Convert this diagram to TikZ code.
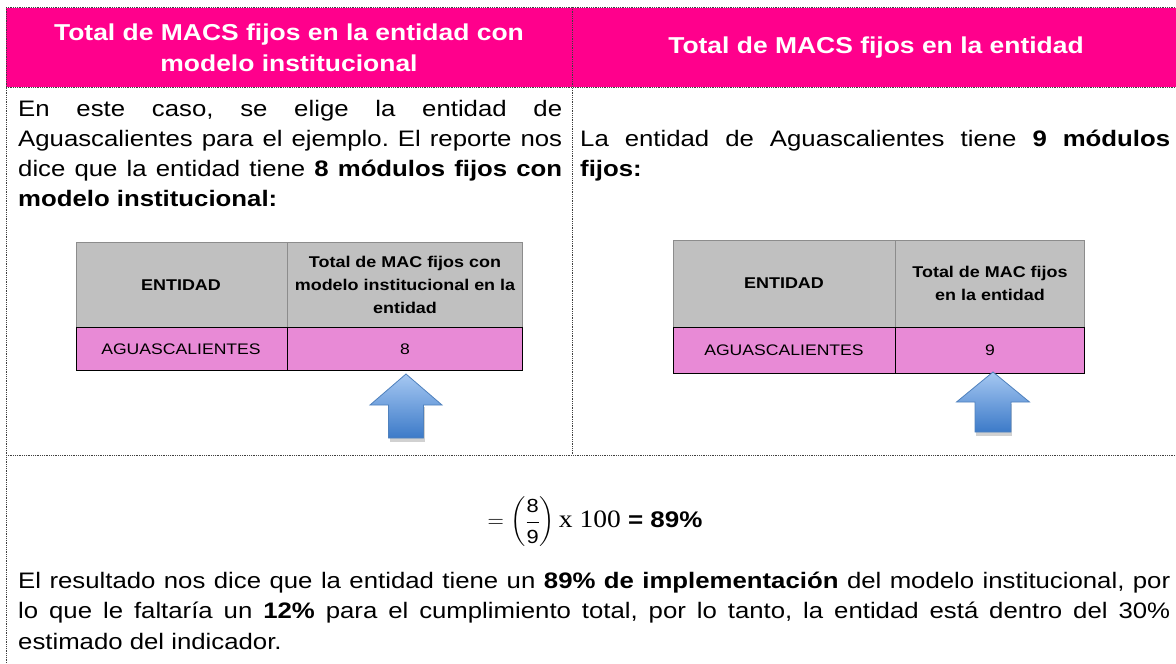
\documentclass[tikz,border=0pt]{standalone}
\usepackage{fix-cm}
\usepackage{amsmath}
\usepackage{fontspec}
\setmainfont{Liberation Sans}[FakeStretch=1.15]
\newfontfamily\formulaserif{Liberation Serif}[FakeStretch=1.1]
\definecolor{hdrpink}{HTML}{FF008C}
\definecolor{rowpink}{HTML}{E88AD6}
\definecolor{cellgray}{HTML}{C0C0C0}
\definecolor{gridgray}{HTML}{8C8C8C}
\definecolor{arrowtop}{HTML}{A6C8F2}
\definecolor{arrowbot}{HTML}{3C7AC8}
\definecolor{arrowedge}{HTML}{4F81BD}
\newcommand{\blockarrowup}[6]{%
  % #1 tip x, #2 tip y, #3 head half width, #4 head base y, #5 shaft half width, #6 bottom y
  \fill[black,opacity=0.18] ({#1-#5+1},{#4+2}) rectangle ({#1+#5+1},{#6+4});
  \path[arrowbody] (#1,#2) -- ({#1+#3},#4) -- ({#1+#5},#4) -- ({#1+#5},#6)
     -- ({#1-#5},#6) -- ({#1-#5},#4) -- ({#1-#3},#4) -- cycle;
}
\frenchspacing
\begin{document}
\begin{tikzpicture}[x=1pt,y=-1pt,
  border/.style={densely dotted,line width=0.8pt,black!75},
  hdr/.style={text=white,font=\fontsize{23}{31}\selectfont\bfseries,align=center,inner sep=0},
  body/.style={anchor=base west,inner sep=0},
  thead/.style={font=\fontsize{15.6}{23}\selectfont\bfseries,align=center,inner sep=0},
  tcell/.style={font=\fontsize{15.3}{21}\selectfont,inner sep=0},
  arrowbody/.style={draw=arrowedge,line width=0.8pt,top color=arrowtop,bottom color=arrowbot,line join=miter}]
\useasboundingbox (0,0) rectangle (1176,664);
\fill[white] (0,0) rectangle (1176,664);
% header band
\fill[hdrpink] (6,8) rectangle (1176,87);
% borders
\draw[border] (6,7) -- (1176,7);
\draw[border] (6,87) -- (1176,87);
\draw[border] (6,455) -- (1176,455);
\draw[border] (6,7) -- (6,664);
\draw[border] (572,7) -- (572,455);
% header texts
\node[hdr] (h1) at (289,48) {Total de MACS fijos en la entidad con\\modelo institucional};
\node[hdr] (h2) at (876,48) {Total de MACS fijos en la entidad};
% body texts
\node[body] (t1) at (18,116) {\parbox[t]{544pt}{\fontsize{22.4}{30}\selectfont
 En este caso, se elige la entidad de\linebreak
 Aguascalientes para el ejemplo. El reporte nos\linebreak
 dice que la entidad tiene \textbf{8 módulos fijos con}\linebreak
 \textbf{modelo institucional:}}};
\node[body] (t2) at (580,146) {\parbox[t]{590pt}{\fontsize{22.4}{30}\selectfont
 La entidad de Aguascalientes tiene \textbf{9 módulos}\linebreak
 \textbf{fijos:}}};
% left table
\fill[cellgray] (76,242) rectangle (522,327);
\fill[rowpink] (76,327) rectangle (522,370);
\draw[gridgray,line width=0.8pt] (76,242) rectangle (522,327);
\draw[gridgray,line width=0.8pt] (287,242) -- (287,327);
\draw[black,line width=0.9pt] (76,327) rectangle (522,370);
\draw[black,line width=0.9pt] (287,327) -- (287,370);
\node[thead] (lt1) at (181,285) {ENTIDAD};
\node[thead] (lt2) at (405,285) {Total de MAC fijos con\\modelo institucional en la\\entidad};
\node[tcell] (lt3) at (181,349) {AGUASCALIENTES};
\node[tcell] (lt4) at (405,349) {8};
% right table
\fill[cellgray] (673,240) rectangle (1084,327);
\fill[rowpink] (673,327) rectangle (1084,373);
\draw[gridgray,line width=0.8pt] (673,240) rectangle (1084,327);
\draw[gridgray,line width=0.8pt] (895,240) -- (895,327);
\draw[black,line width=0.9pt] (673,327) rectangle (1084,373);
\draw[black,line width=0.9pt] (895,327) -- (895,373);
\node[thead] (rt1) at (784,283) {ENTIDAD};
\node[thead] (rt2) at (990,283) {Total de MAC fijos\\en la entidad};
\node[tcell] (rt3) at (784,350) {AGUASCALIENTES};
\node[tcell] (rt4) at (990,350) {9};
% arrows
\blockarrowup{406}{374}{36}{405}{17.5}{438}
\blockarrowup{993}{372}{36.5}{402}{18}{432}
% formula
\node[inner sep=0,font=\fontsize{22.6}{30}\selectfont] (f) at (595,522)
  {$=\left(\dfrac{\text{\fontsize{19}{19}\selectfont 8}}{\text{\fontsize{19}{19}\selectfont 9}}\right)
   \text{\formulaserif\fontsize{25}{30}\selectfont x 100}$ \textbf{= 89\%}};
% bottom paragraph
\node[body] (t3) at (18,588) {\parbox[t]{1152pt}{\fontsize{22.4}{30.5}\selectfont
 El resultado nos dice que la entidad tiene un \textbf{89\% de implementación} del modelo institucional, por\linebreak
 lo que le faltaría un \textbf{12\%} para el cumplimiento total, por lo tanto, la entidad está dentro del 30\%\linebreak
 estimado del indicador.}};
\end{tikzpicture}
\end{document}
